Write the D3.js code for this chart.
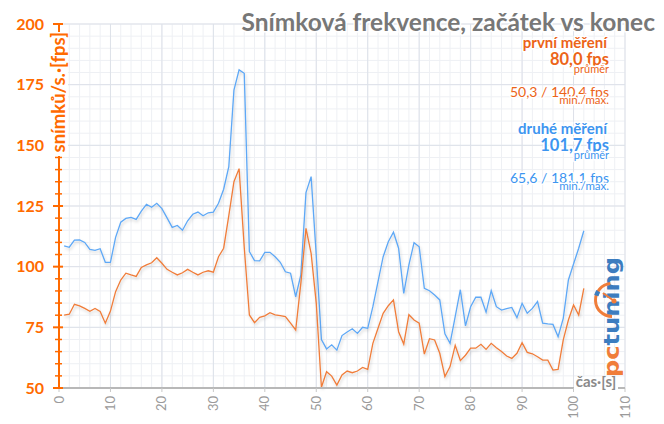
<!DOCTYPE html>
<html>
<head>
<meta charset="utf-8">
<script src="https://cdn.jsdelivr.net/npm/d3@7"></script>
<style>
  html, body { margin: 0; padding: 0; background: #fff; }
  svg { display: block; font-family: Lato, "Open Sans", sans-serif; }
</style>
</head>
<body>
<div id="chart"></div>
<script>
// time in seconds
const seconds = [1,2,3,4,5,6,7,8,9,10,11,12,13,14,15,16,17,18,19,20,21,22,23,24,25,26,27,28,29,30,
  31,32,33,34,35,36,37,38,39,40,41,42,43,44,45,46,47,48,49,50,51,52,53,54,55,56,57,58,59,60,
  61,62,63,64,65,66,67,68,69,70,71,72,73,74,75,76,77,78,79,80,81,82,83,84,85,86,87,88,89,90,
  91,92,93,94,95,96,97,98,99,100,101,102];

// první měření (orange)
const firstRun = [80.0,80.4,84.5,83.8,82.8,81.6,82.8,81.5,76.7,81.7,
  89.7,94.5,97.3,96.6,96.0,99.7,100.7,101.6,103.7,101.4,
  98.9,97.7,96.6,97.5,98.9,97.7,96.6,97.7,98.3,97.7,
  104.1,107.6,121.0,135.0,140.4,108.0,80.1,76.9,79.1,79.7,
  81.0,80.1,79.8,79.4,76.7,73.9,93.1,115.8,105.5,84.9,
  50.3,56.7,54.9,51.2,55.4,57.0,56.3,57.0,58.5,57.7,
  68.4,74.6,80.8,83.9,86.3,73.2,68.1,80.2,78.0,76.7,
  64.0,70.3,69.8,64.3,54.7,58.8,67.6,61.3,63.5,66.4,
  66.4,68.0,65.9,68.4,66.6,65.0,63.2,62.2,64.3,68.7,
  64.7,64.1,62.9,61.5,61.5,57.4,57.7,69.8,78.0,84.2,
  80.1,91.1];

// druhé měření (blue)
const secondRun = [108.6,108.0,110.9,111.0,110.0,107.1,106.7,107.4,101.8,101.8,
  112.1,118.3,119.9,120.3,119.5,122.9,125.7,124.5,126.1,123.9,
  120.1,116.2,117.0,115.0,118.9,121.6,122.5,121.0,122.2,122.5,
  126.1,131.9,141.2,172.8,181.1,179.7,106.2,102.5,102.4,105.9,
  105.9,104.1,101.8,97.9,97.3,87.6,96.6,130.5,137.1,104.5,
  70.0,66.1,67.8,65.6,71.6,73.1,74.4,72.5,75.0,74.6,
  83.5,93.8,104.1,110.3,114.2,107.6,89.0,100.7,109.9,108.2,
  91.1,90.1,88.3,86.3,72.3,68.4,79.4,90.5,75.6,83.5,
  87.4,87.4,81.2,90.1,83.5,82.1,82.7,83.2,79.0,84.9,
  80.8,82.8,85.6,76.7,76.4,76.2,71.1,78.7,94.5,101.1,
  107.6,114.8];

const yTicks = [50, 75, 100, 125, 150, 175, 200];
const xTicks = [0, 10, 20, 30, 40, 50, 60, 70, 80, 90, 100, 110];

const chartTitle = "Snímková frekvence, začátek vs konec";
const legendFirst = ["první měření", "80,0 fps", "průměr", "50,3 / 140,4 fps", "min./max."];
const legendSecond = ["druhé měření", "101,7 fps", "průměr", "65,6 / 181,1 fps", "min./max."];

const W = 664, H = 424;
const ORANGE_AXIS = "#ff6a00";
const ORANGE_LINE = "#f07d3a";
const ORANGE_TEXT = "#ec6418";
const BLUE_LINE = "#5ea8f6";
const BLUE_TEXT = "#3d95f0";

const x = d3.scaleLinear().domain([0, 110]).range([59, 625]);
const y = d3.scaleLinear().domain([50, 200]).range([388, 24]);

const svg = d3.select("#chart").append("svg").attr("width", W).attr("height", H);

const defs = svg.append("defs");
const shadow = defs.append("filter").attr("id", "shadow")
  .attr("x", "-5%").attr("y", "-5%").attr("width", "110%").attr("height", "120%");
shadow.append("feDropShadow").attr("dx", 1).attr("dy", 2).attr("stdDeviation", 1.5)
  .attr("flood-color", "#000").attr("flood-opacity", 0.18);

// grid
const grid = svg.append("g");
grid.selectAll(".vminor").data(d3.range(0, 111, 2)).enter().append("line")
  .attr("x1", d => x(d)).attr("x2", d => x(d)).attr("y1", y(200)).attr("y2", y(50))
  .attr("stroke", "#eef0f4").attr("stroke-width", 1);
grid.selectAll(".hminor").data(d3.range(50, 201, 5)).enter().append("line")
  .attr("x1", x(0)).attr("x2", x(110)).attr("y1", d => y(d)).attr("y2", d => y(d))
  .attr("stroke", "#eef0f4").attr("stroke-width", 1);
grid.selectAll(".vmajor").data(xTicks).enter().append("line")
  .attr("x1", d => x(d)).attr("x2", d => x(d)).attr("y1", y(200)).attr("y2", y(50))
  .attr("stroke", "#dde1e9").attr("stroke-width", 1);
grid.selectAll(".hmajor").data(yTicks).enter().append("line")
  .attr("x1", x(0)).attr("x2", x(110)).attr("y1", d => y(d)).attr("y2", d => y(d))
  .attr("stroke", "#dde1e9").attr("stroke-width", 1);

// title
svg.append("text").attr("x", 655).attr("y", 31).attr("text-anchor", "end")
  .attr("font-size", 24.5).attr("font-weight", 700).attr("fill", "#777")
  .style("paint-order", "stroke").attr("stroke", "#fff").attr("stroke-width", 3)
  .text(chartTitle);

// legend blocks
function legendBlock(lines, color, top) {
  const g = svg.append("g").attr("text-anchor", "end").attr("fill", color)
    .style("paint-order", "stroke").attr("stroke", "#fff").attr("stroke-width", 3)
    .attr("stroke-linejoin", "round");
  const spec = [
    { dy: 0, size: 15, weight: 700, dx: -2 },
    { dy: 17, size: 16.5, weight: 700, dx: 0 },
    { dy: 25, size: 11, weight: 400, dx: 0 },
    { dy: 49, size: 14, weight: 400, dx: 0 },
    { dy: 56, size: 11.5, weight: 400, dx: 0 }
  ];
  lines.forEach((t, i) => {
    g.append("text").attr("x", 609 + spec[i].dx).attr("y", top + spec[i].dy)
      .attr("font-size", spec[i].size).attr("font-weight", spec[i].weight).text(t);
  });
}
legendBlock(legendFirst, ORANGE_TEXT, 48);
legendBlock(legendSecond, BLUE_TEXT, 134);

// series lines
const line = d3.line().x((d, i) => x(seconds[i])).y(d => y(d));
svg.append("path").datum(secondRun).attr("d", line).attr("fill", "none")
  .attr("stroke", BLUE_LINE).attr("stroke-width", 1.3).attr("filter", "url(#shadow)");
svg.append("path").datum(firstRun).attr("d", line).attr("fill", "none")
  .attr("stroke", ORANGE_LINE).attr("stroke-width", 1.3).attr("filter", "url(#shadow)");

// logo (pctuning)
const logo = svg.append("g").attr("transform", "translate(619,377) rotate(-90)");
const logoText = logo.append("text").attr("x", 0).attr("y", 0)
  .attr("font-family", "'DejaVu Sans', sans-serif").attr("font-weight", 700).attr("font-size", 21)
  .attr("textLength", 120).attr("lengthAdjust", "spacingAndGlyphs");
logoText.append("tspan").attr("fill", "#f07d3a").text("pc");
logoText.append("tspan").attr("fill", "#3c7dbf").text("tuning");
const arc = d3.arc().innerRadius(15).outerRadius(18).startAngle(-Math.PI).endAngle(-0.1);
svg.append("path").attr("d", arc()).attr("transform", "translate(612,300)").attr("fill", "#f07d3a");
svg.append("line").attr("x1", 603).attr("y1", 293).attr("x2", 614).attr("y2", 301)
  .attr("stroke", "#f07d3a").attr("stroke-width", 2);
svg.append("circle").attr("cx", 614).attr("cy", 301).attr("r", 2.5).attr("fill", "#f07d3a");
svg.append("path").attr("d", d3.arc().innerRadius(14).outerRadius(18.5).startAngle(-1.3).endAngle(-1.0)())
  .attr("transform", "translate(612,300)").attr("fill", "#3c7dbf");

// x axis
svg.append("line").attr("x1", x(0)).attr("x2", 618).attr("y1", y(50)).attr("y2", y(50))
  .attr("stroke", "#b8b8b8").attr("stroke-width", 2);
svg.selectAll(".xtick").data(xTicks).enter().append("line")
  .attr("x1", d => x(d)).attr("x2", d => x(d)).attr("y1", y(50)).attr("y2", y(50) + 4)
  .attr("stroke", "#c8c8c8").attr("stroke-width", 1);
svg.selectAll(".xlabel").data(xTicks).enter().append("text")
  .attr("transform", d => `translate(${x(d)},${y(50) + 8}) rotate(-90)`)
  .attr("text-anchor", "end").attr("dy", "0.35em")
  .attr("font-size", 13).attr("fill", "#9a9a9a").text(d => d);
const xl = svg.append("g");
xl.append("rect").attr("x", 574).attr("y", 377).attr("width", 44).attr("height", 15).attr("fill", "#fff");
xl.append("text").attr("x", 596).attr("y", 387).attr("text-anchor", "middle")
  .attr("font-size", 15).attr("font-weight", 700).attr("fill", "#8a8a8a").text("čas·[s]");
svg.append("line").attr("x1", 618).attr("x2", 625).attr("y1", y(50)).attr("y2", y(50))
  .attr("stroke", "#b8b8b8").attr("stroke-width", 2);

// y axis
svg.append("line").attr("x1", x(0)).attr("x2", x(0)).attr("y1", y(50)).attr("y2", y(200))
  .attr("stroke", ORANGE_AXIS).attr("stroke-width", 2);
svg.selectAll(".yminor").data(d3.range(50, 201, 5).filter(d => d % 25 !== 0)).enter().append("line")
  .attr("x1", x(0) - 4).attr("x2", x(0) + 3).attr("y1", d => y(d)).attr("y2", d => y(d))
  .attr("stroke", ORANGE_AXIS).attr("stroke-width", 1.5);
svg.selectAll(".ymajor").data(yTicks).enter().append("line")
  .attr("x1", x(0) - 6).attr("x2", x(0) + 4).attr("y1", d => y(d)).attr("y2", d => y(d))
  .attr("stroke", ORANGE_AXIS).attr("stroke-width", 2);
svg.selectAll(".ylabel").data(yTicks).enter().append("text")
  .attr("x", 44).attr("y", d => y(d)).attr("dy", "0.35em").attr("text-anchor", "end")
  .attr("font-size", 16).attr("font-weight", 700).attr("fill", ORANGE_AXIS).text(d => d);

// y axis title over the axis line
const yt = svg.append("g").attr("transform", `translate(${x(0)},${y(200) + 4}) rotate(-90)`);
yt.append("rect").attr("x", -128).attr("y", -9).attr("width", 124).attr("height", 18).attr("fill", "#fff");
yt.append("text").attr("x", -4).attr("y", 0).attr("dy", "0.35em").attr("text-anchor", "end")
  .attr("font-size", 18.5).attr("font-weight", 700).attr("fill", ORANGE_AXIS).text("snímků/s.·[fps]");
</script>
</body>
</html>
